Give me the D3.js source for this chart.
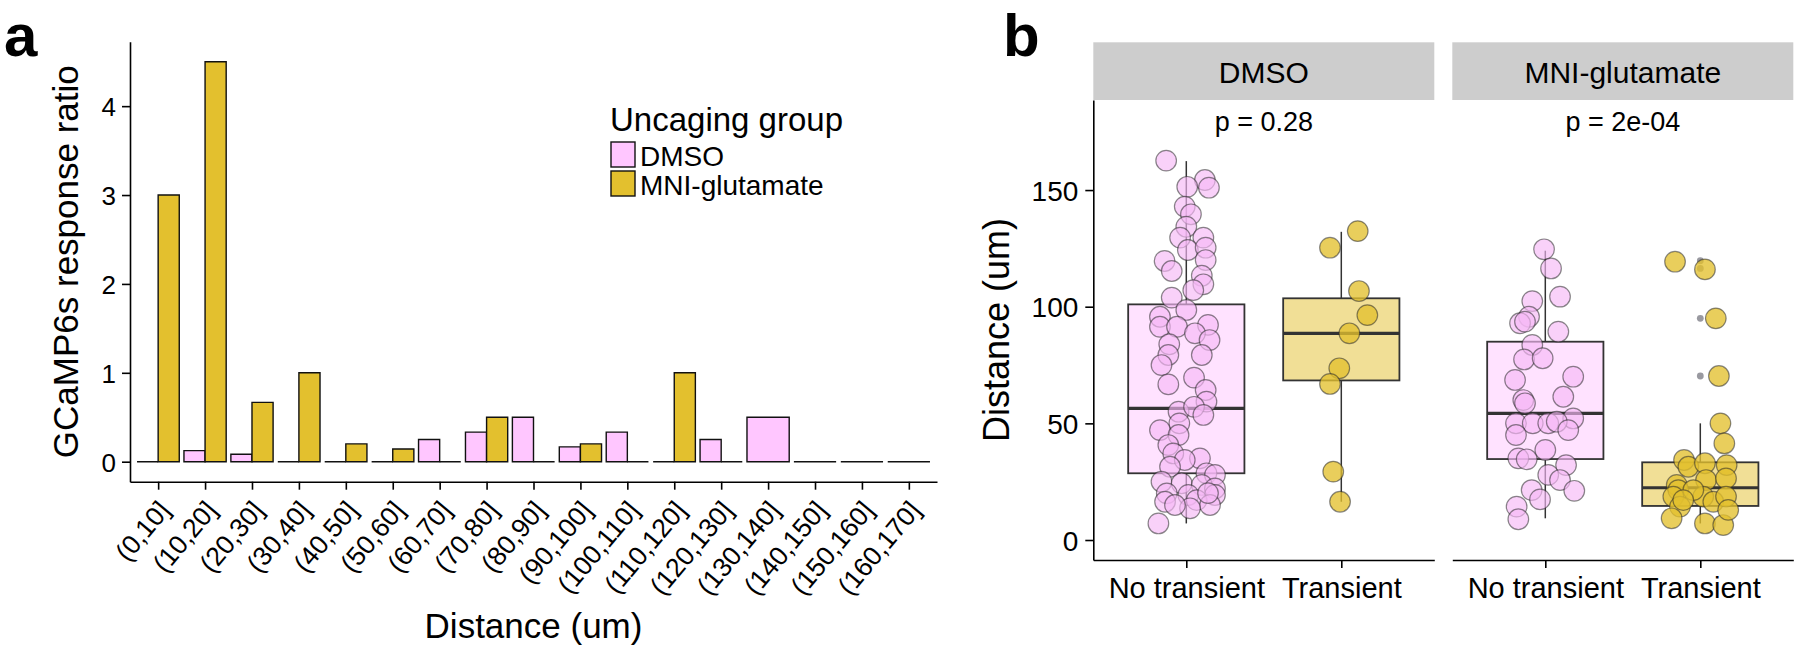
<!DOCTYPE html>
<html>
<head>
<meta charset="utf-8">
<script src="https://cdn.jsdelivr.net/npm/d3@7"></script>
<style>
  body { margin: 0; background: #fff; }
  svg text { font-family: "Liberation Sans", Arial, sans-serif; fill: #000; }
</style>
</head>
<body>
<svg id="fig" width="1800" height="653"></svg>
<script>
// ---- panel a: response ratio per distance bin ----
const distanceBins = ['(0,10]', '(10,20]', '(20,30]', '(30,40]', '(40,50]', '(50,60]', '(60,70]', '(70,80]',
    '(80,90]', '(90,100]', '(100,110]', '(110,120]', '(120,130]', '(130,140]', '(140,150]', '(150,160]', '(160,170]'];
// null = group absent in that bin
const dmsoRatio = [0, 0.125, 0.083, 0, 0, 0, 0.25, 0.333, 0.5, 0.167, 0.333, 0, 0.25, 0.5, 0, 0, 0];
const mniRatio = [3, 4.5, 0.667, 1, 0.2, 0.143, 0, 0.5, 0, 0.2, 0, 1, 0, null, null, null, null];
const ratioTicks = [0, 1, 2, 3, 4];
const groupNames = ['DMSO', 'MNI-glutamate'];

// ---- panel b: distance by transient outcome ----
const facets = ['DMSO', 'MNI-glutamate'];
const pLabels = ['p = 0.28', 'p = 2e-04'];
const transientGroups = ['No transient', 'Transient'];
const distanceTicks = [0, 50, 100, 150];

// box stats: [lower whisker, Q1, median, Q3, upper whisker]
const dmsoNoTransientBox = [7.1, 28.6, 56.4, 101.0, 162.4];
const dmsoTransientBox = [16.4, 68.4, 88.6, 103.6, 132.1];
const mniNoTransientBox = [9.3, 34.7, 54.3, 85.0, 124.0];
const mniTransientBox = [7.1, 14.6, 22.4, 33.3, 50.0];
const dmsoNoTransientOutliers = [];
const dmsoTransientOutliers = [];
const mniNoTransientOutliers = [];
const mniTransientOutliers = [119.7, 116.4, 95.0, 70.3];

// jittered points: distance (um) and horizontal jitter (fraction of category step)
const dmsoNoTransientDist = [162.6, 154.3, 151.0, 151.4, 142.9, 139.6, 134.3, 129.6, 129.6, 124.3, 125.3, 120.0,
    119.6, 115.3, 113.3, 109.6, 107.1, 103.9, 98.6, 95.7, 91.4, 91.4, 92.2, 88.6, 85.7, 83.9, 79.3, 79.3, 75.0,
    66.7, 69.6, 64.3, 59.3, 55.0, 57.1, 53.6, 50.0, 47.1, 45.0, 40.7, 37.1, 35.0, 34.3, 31.4, 28.6, 27.9, 25.0,
    24.3, 23.6, 22.1, 20.0, 19.3, 19.3, 16.4, 17.1, 15.0, 13.6, 15.0, 7.1, 20.1];
const dmsoNoTransientJitter = [-0.13, 0.12, 0.146, 0.006, -0.01, 0.03, 0.0, -0.04, 0.11, 0.01, 0.125, 0.125,
    -0.14, -0.094, 0.10, 0.11, 0.045, -0.094, 0.0, -0.17, -0.17, -0.06, 0.14, 0.056, 0.15, -0.11, -0.116, 0.10, -0.16,
    -0.116, 0.05, 0.125, 0.13, -0.05, 0.05, 0.11, -0.045, -0.17, -0.05, -0.116, -0.084, 0.088, -0.01, -0.105, 0.13, 0.185, -0.16,
    -0.03, 0.10, 0.185, -0.126, 0.013, 0.185, -0.137, 0.067, 0.153, 0.024, -0.073, -0.18, 0.14];
const dmsoTransientDist = [132.4, 125.3, 106.7, 96.4, 88.6, 73.6, 66.9, 29.3, 16.4];
const dmsoTransientJitter = [0.106, -0.073, 0.114, 0.168, 0.052, -0.013, -0.073, -0.052, -0.008];
const mniNoTransientDist = [124.6, 116.4, 102.4, 104.3, 95.7, 92.9, 93.6, 89.3, 83.6, 77.4, 77.9, 70.0, 68.6,
    60.0, 58.6, 61.4, 52.1, 50.0, 50.0, 50.0, 50.7, 47.1, 45.0, 38.6, 35.0, 34.6, 32.1, 27.9, 25.7, 21.4, 21.1,
    17.4, 14.3, 8.9];
const mniNoTransientJitter = [-0.008, 0.037, -0.084, 0.095, -0.105, -0.163, -0.131, 0.084, -0.084, -0.137, -0.017, 0.18, -0.195,
    -0.142, -0.131, 0.116, 0.18, -0.189, -0.081, 0.019, 0.074, 0.148, -0.189, 0.0, -0.174, -0.12, 0.134, 0.019, 0.095, -0.088, 0.187,
    -0.034, -0.185, -0.174];
const mniTransientDist = [119.3, 116.0, 95.0, 70.3, 50.0, 41.4, 34.3, 31.4, 32.9, 32.1, 23.6, 21.4, 25.7, 26.4,
    18.6, 18.6, 16.4, 18.6, 14.3, 9.3, 7.1, 6.4, 12.9, 21.4, 17.1];
const mniTransientJitter = [-0.163, 0.03, 0.10, 0.12, 0.13, 0.155, -0.105, -0.077, 0.03, 0.17, -0.152, -0.142, 0.037, 0.166,
    -0.174, 0.019, 0.084, 0.166, -0.131, -0.185, 0.03, 0.148, 0.18, -0.045, -0.11];

const pink = '#FFC6FF';
const gold = '#E3C02E';
const groupColors = [pink, gold];

const svg = d3.select('#fig');

// panel letters
svg.append('text').attr('x', 4).attr('y', 56).style('font-size', '60px').style('font-weight', 'bold').text('a');
svg.append('text').attr('x', 1003).attr('y', 56).style('font-size', '60px').style('font-weight', 'bold').text('b');

function drawPanelA() {
    const left = 130, right = 937, top = 41.7, bottom = 481.7;
    const x = d3.scalePoint().domain(distanceBins).range([left, right]).padding(0.6);
    const y = d3.scaleLinear().domain([-0.225, 4.725]).range([bottom, top]);
    const barW = x.step() * 0.9;

    const bars = [];
    distanceBins.forEach((bin, i) => {
        const vals = [dmsoRatio[i], mniRatio[i]];
        const present = vals.map((v, g) => ({ g, v })).filter(d => d.v !== null);
        const w = barW / present.length;
        present.forEach((d, k) => {
            const x0 = x(bin) - barW / 2 + k * w;
            bars.push({ x0, x1: x0 + w, v: d.v, g: d.g });
        });
    });

    svg.append('g').selectAll('path')
        .data(bars)
        .enter()
        .append('path')
        .attr('d', d => `M${d.x0},${y(0)}H${d.x1}V${y(d.v)}H${d.x0}Z`)
        .attr('fill', d => groupColors[d.g])
        .attr('stroke', '#111')
        .attr('stroke-width', 1.4);

    const yAxis = svg.append('g')
        .attr('transform', `translate(${left},0)`)
        .call(d3.axisLeft(y).tickValues(ratioTicks).tickFormat(d3.format('d'))
            .tickSize(8).tickSizeOuter(0).tickPadding(6));
    yAxis.selectAll('text').style('font-size', '26px').attr('dy', '0.36em');

    const xAxis = svg.append('g')
        .attr('transform', `translate(0,${bottom})`)
        .call(d3.axisBottom(x).tickSize(8).tickSizeOuter(0));
    xAxis.selectAll('text')
        .style('font-size', '26.5px')
        .attr('x', 0).attr('y', 0).attr('dy', '0.72em')
        .attr('text-anchor', 'end')
        .attr('transform', 'translate(-2,17) rotate(-50)');

    [yAxis, xAxis].forEach(a => {
        a.select('.domain').attr('stroke', '#000').attr('stroke-width', 1.6);
        a.selectAll('.tick line').attr('stroke', '#000').attr('stroke-width', 1.6);
    });

    svg.append('text')
        .attr('transform', `translate(78,${(top + bottom) / 2}) rotate(-90)`)
        .attr('text-anchor', 'middle')
        .style('font-size', '35px')
        .text('GCaMP6s response ratio');
    svg.append('text')
        .attr('x', (left + right) / 2).attr('y', 638)
        .attr('text-anchor', 'middle')
        .style('font-size', '35px')
        .text('Distance (um)');

    // legend
    const lg = svg.append('g');
    lg.append('text').attr('x', 610).attr('y', 131).style('font-size', '33px').text('Uncaging group');
    groupNames.forEach((name, i) => {
        lg.append('rect')
            .attr('x', 611).attr('y', 142 + i * 29)
            .attr('width', 24).attr('height', 25)
            .attr('fill', groupColors[i]).attr('stroke', '#111').attr('stroke-width', 1.4);
        lg.append('text').attr('x', 640).attr('y', 166 + i * 29).style('font-size', '28px').text(name);
    });
}

function drawPanelB() {
    const top = 100, bottom = 560;
    const panels = [
        { x0: 1093.3, x1: 1434.3, boxes: [dmsoNoTransientBox, dmsoTransientBox],
          outliers: [dmsoNoTransientOutliers, dmsoTransientOutliers],
          dist: [dmsoNoTransientDist, dmsoTransientDist], jitter: [dmsoNoTransientJitter, dmsoTransientJitter] },
        { x0: 1452.3, x1: 1793.3, boxes: [mniNoTransientBox, mniTransientBox],
          outliers: [mniNoTransientOutliers, mniTransientOutliers],
          dist: [mniNoTransientDist, mniTransientDist], jitter: [mniNoTransientJitter, mniTransientJitter] }
    ];
    const y = d3.scaleLinear().domain([-8.57, 188.6]).range([bottom, top]);

    panels.forEach((p, fi) => {
        const x = d3.scalePoint().domain(transientGroups).range([p.x0, p.x1]).padding(0.6);
        const bw = x.step() * 0.75;
        const g = svg.append('g');

        // strip
        g.append('rect')
            .attr('x', p.x0).attr('y', 42.3)
            .attr('width', p.x1 - p.x0).attr('height', top - 42.3)
            .attr('fill', '#CDCDCD');
        g.append('text')
            .attr('x', (p.x0 + p.x1) / 2).attr('y', 83)
            .attr('text-anchor', 'middle')
            .style('font-size', '30px')
            .text(facets[fi]);

        transientGroups.forEach((grp, gi) => {
            const cx = x(grp);
            const b = p.boxes[gi];
            const col = gi === 0 ? pink : gold;

            g.append('line')
                .attr('x1', cx).attr('x2', cx).attr('y1', y(b[4])).attr('y2', y(b[3]))
                .attr('stroke', '#333').attr('stroke-width', 1.5);
            g.append('line')
                .attr('x1', cx).attr('x2', cx).attr('y1', y(b[1])).attr('y2', y(b[0]))
                .attr('stroke', '#333').attr('stroke-width', 1.5);
            g.append('rect')
                .attr('x', cx - bw / 2).attr('y', y(b[3]))
                .attr('width', bw).attr('height', y(b[1]) - y(b[3]))
                .attr('fill', col).attr('fill-opacity', 0.5)
                .attr('stroke', '#333').attr('stroke-width', 1.8);
            g.append('line')
                .attr('x1', cx - bw / 2).attr('x2', cx + bw / 2).attr('y1', y(b[2])).attr('y2', y(b[2]))
                .attr('stroke', '#333').attr('stroke-width', 3.2);

            g.selectAll(null)
                .data(p.outliers[gi])
                .enter()
                .append('circle')
                .attr('cx', cx).attr('cy', d => y(d)).attr('r', 3.4)
                .attr('fill', '#6e6e78').attr('fill-opacity', 0.7);

            const pts = p.dist[gi].map((v, k) => ({ v, j: p.jitter[gi][k] }));
            g.selectAll(null)
                .data(pts)
                .enter()
                .append('circle')
                .attr('cx', d => cx + d.j * x.step())
                .attr('cy', d => y(d.v))
                .attr('r', 10.3)
                .attr('fill', gi === 0 ? '#F6B9F6' : gold)
                .attr('fill-opacity', gi === 0 ? 0.65 : 0.78)
                .attr('stroke', '#2a2a2a')
                .attr('stroke-opacity', 0.55)
                .attr('stroke-width', 1.2);
        });

        g.append('text')
            .attr('x', (p.x0 + p.x1) / 2).attr('y', 131)
            .attr('text-anchor', 'middle')
            .style('font-size', '27px')
            .text(pLabels[fi]);

        const xAxis = g.append('g')
            .attr('transform', `translate(0,${bottom})`)
            .call(d3.axisBottom(x).tickSize(8).tickSizeOuter(0).tickPadding(9));
        xAxis.selectAll('text').style('font-size', '29px').attr('dy', '0.71em');
        xAxis.select('.domain').attr('stroke', '#000').attr('stroke-width', 1.6);
        xAxis.selectAll('.tick line').attr('stroke', '#000').attr('stroke-width', 1.6);

        if (fi === 0) {
            const yAxis = g.append('g')
                .attr('transform', `translate(${p.x0},0)`)
                .call(d3.axisLeft(y).tickValues(distanceTicks).tickSize(8).tickSizeOuter(0).tickPadding(7));
            yAxis.selectAll('text').style('font-size', '28px').attr('dy', '0.36em');
            yAxis.select('.domain').attr('stroke', '#000').attr('stroke-width', 1.6);
            yAxis.selectAll('.tick line').attr('stroke', '#000').attr('stroke-width', 1.6);
        }
    });

    svg.append('text')
        .attr('transform', `translate(1009,${(top + bottom) / 2}) rotate(-90)`)
        .attr('text-anchor', 'middle')
        .style('font-size', '36px')
        .text('Distance (um)');
}

drawPanelA();
drawPanelB();
</script>
</body>
</html>
